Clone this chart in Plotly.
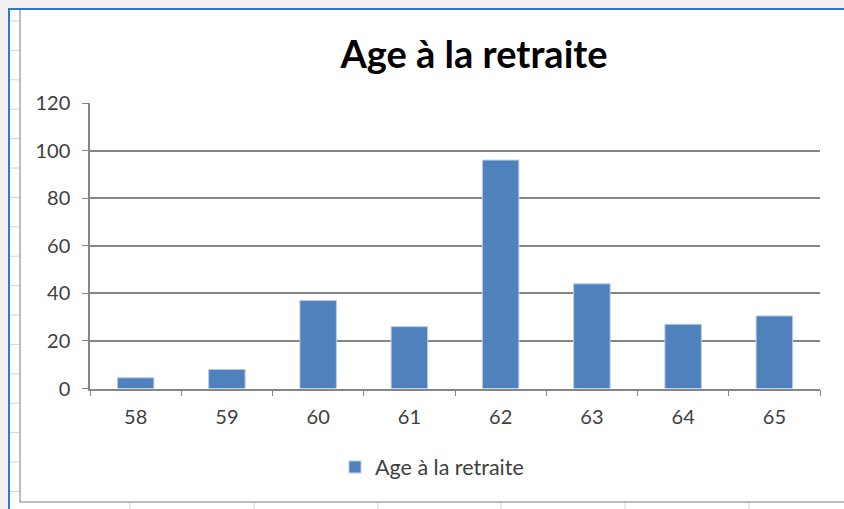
import plotly.graph_objects as go

# data
ages = ['58', '59', '60', '61', '62', '63', '64', '65']
counts = [4.5, 8, 37, 26, 96, 44, 27, 30.5]
series_name = 'Age à la retraite'
y_ticks = [0, 20, 40, 60, 80, 100, 120]

W, H = 844, 509


def px(x):
    return x / W


def py(y):
    return 1 - y / H


fig = go.Figure(go.Bar(
    x=ages, y=counts, name=series_name,
    marker=dict(color='#4f81bd', line=dict(color='#b9cde5', width=1)),
    showlegend=True,
))

# spreadsheet frame around the chart
shapes = [dict(type='rect', xref='paper', yref='paper', x0=px(8), x1=1, y0=0, y1=py(8),
               fillcolor='white', line=dict(width=0), layer='below')]
for k in range(17):
    y = 21 + 29.4 * k
    shapes.append(dict(type='line', xref='paper', yref='paper', x0=px(10), x1=px(20),
                       y0=py(y), y1=py(y), line=dict(color='#d4d4d4', width=1), layer='below'))
for x in [130, 254, 378, 501, 625, 749]:
    shapes.append(dict(type='line', xref='paper', yref='paper', x0=px(x), x1=px(x),
                       y0=0, y1=py(502), line=dict(color='#d4d4d4', width=1), layer='below'))
shapes.append(dict(type='rect', xref='paper', yref='paper', x0=px(20), x1=px(860),
                   y0=py(502), y1=py(9), fillcolor='white',
                   line=dict(color='#a6a6a6', width=1.5), layer='below'))
shapes.append(dict(type='line', xref='paper', yref='paper', x0=px(8), x1=1,
                   y0=py(9), y1=py(9), line=dict(color='#2b7bd4', width=2), layer='below'))
shapes.append(dict(type='line', xref='paper', yref='paper', x0=px(9), x1=px(9),
                   y0=0, y1=py(8), line=dict(color='#2b7bd4', width=2), layer='below'))

tick_font = dict(family='Lato, sans-serif', size=20, color='#404040')

fig.update_layout(
    width=W, height=H,
    margin=dict(l=0, r=0, t=0, b=0, autoexpand=False),
    paper_bgcolor='#f0f0f0',
    plot_bgcolor='rgba(0,0,0,0)',
    shapes=shapes,
    bargap=0.6,
    title=dict(text='<b>' + series_name + '</b>', x=px(474), xanchor='center',
               y=py(55), yanchor='middle',
               font=dict(family='Lato, sans-serif', size=38, color='black')),
    xaxis=dict(domain=[px(90), px(820)], type='category', showgrid=False,
               showline=True, linecolor='#868686', linewidth=1.5,
               ticks='outside', tickson='boundaries', ticklen=6, tickcolor='#868686',
               tickfont=tick_font, ticklabelstandoff=10, automargin=False),
    yaxis=dict(domain=[py(388.5), py(103)], range=[0, 120], tickvals=y_ticks,
               showgrid=True, gridcolor='#868686', gridwidth=1.5, zeroline=False,
               showline=True, linecolor='#868686', linewidth=1.5,
               ticks='outside', ticklen=6, tickcolor='#868686',
               tickfont=tick_font, ticklabelstandoff=8, automargin=False),
    legend=dict(orientation='h', x=px(432), xanchor='center', y=py(467), yanchor='middle',
                font=dict(family='Lato, sans-serif', size=21.5, color='#404040'),
                bgcolor='rgba(0,0,0,0)'),
)

fig.write_html("out.html", config={'displayModeBar': False},
               post_script="document.body.style.margin='0';")
